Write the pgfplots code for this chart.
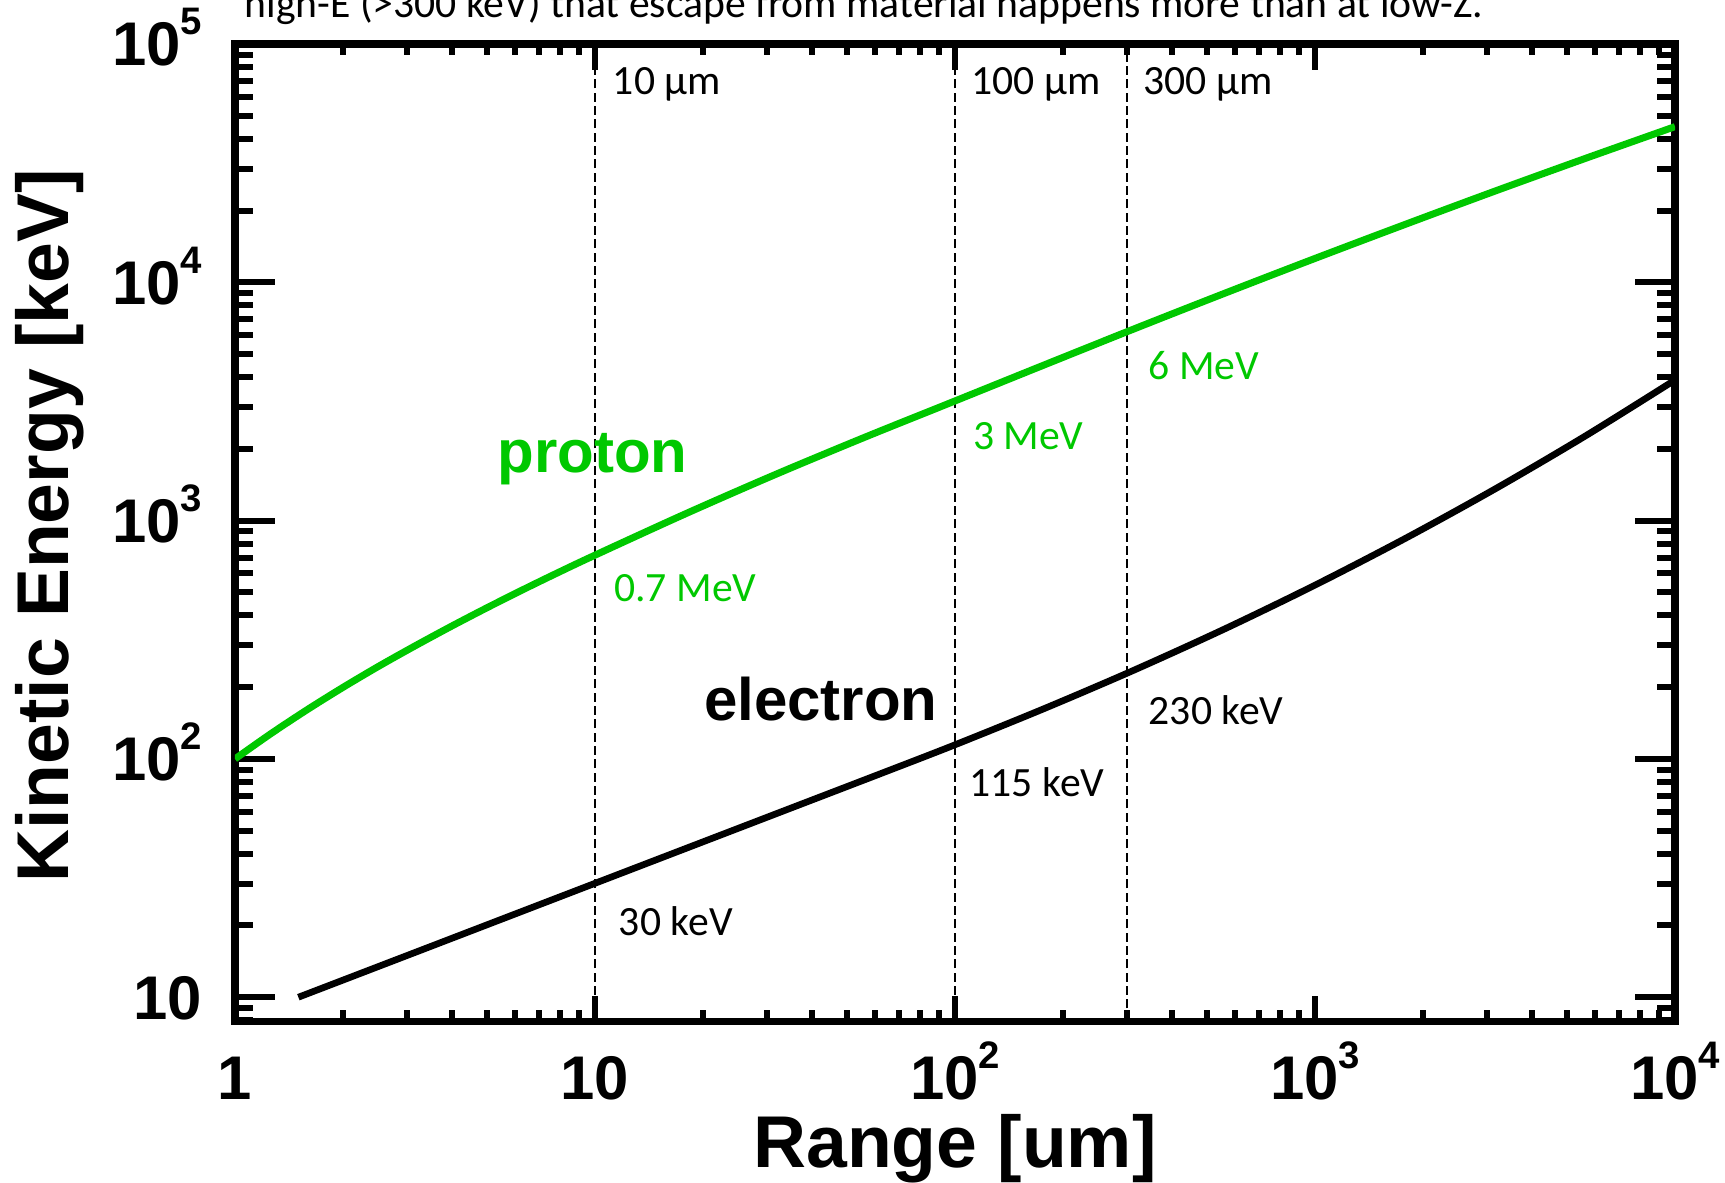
\documentclass[border=0pt]{standalone}
\usepackage{fontspec}
\setmainfont{Liberation Sans}
\newfontfamily\calfont{Carlito}
\usepackage{pgfplots}
\pgfplotsset{compat=1.18}
\definecolor{pgreen}{RGB}{0,200,0}
\newcommand{\tp}[1]{10\raisebox{9.3pt}{\fontsize{11.5pt}{12pt}\selectfont #1}}
\newcommand{\annfont}{\calfont\fontsize{12.5pt}{15pt}\selectfont}
\newcommand{\labfont}{\fontsize{22pt}{26pt}\selectfont\bfseries}
\begin{document}
\begin{tikzpicture}
\begin{axis}[
  name=ax, scale only axis, width=432pt, height=293.3pt,
  xmode=log, ymode=log,
  xmin=1, xmax=10000, ymin=7.9, ymax=100000,
  line width=2.2pt,
  tick align=inside,
  xtick={1,10,100,1000,10000},
  xticklabels={1,10,\tp{2},\tp{3},\tp{4}},
  ytick={10,100,1000,10000,100000},
  yticklabels={10,\tp{2},\tp{3},\tp{4},\tp{5}},
  minor xtick={2,3,4,5,6,7,8,9,20,30,40,50,60,70,80,90,200,300,400,500,600,700,800,900,2000,3000,4000,5000,6000,7000,8000,9000},
  minor ytick={8,9,20,30,40,50,60,70,80,90,200,300,400,500,600,700,800,900,2000,3000,4000,5000,6000,7000,8000,9000,20000,30000,40000,50000,60000,70000,80000,90000},
  ticklabel style={font=\fontsize{18.5pt}{20pt}\selectfont\bfseries},
  xticklabel style={anchor=base, yshift=-23.5pt, inner sep=0pt},
  yticklabel style={anchor=base east, xshift=-8.8pt, yshift=-6.6pt, inner sep=0pt},
  xtick style={black, line width=1.8pt, /pgfplots/major tick length=7.7pt, /pgfplots/minor tick length=3.4pt},
  ytick style={black, line width=1.8pt, /pgfplots/major tick length=12pt, /pgfplots/minor tick length=5.3pt},
]
% dashed guide lines
\addplot[black, line width=0.6pt, dash pattern=on 2.7pt off 1.3pt, forget plot] coordinates {(10,7.9) (10,100000)};
\addplot[black, line width=0.6pt, dash pattern=on 2.7pt off 1.3pt, forget plot] coordinates {(100,7.9) (100,100000)};
\addplot[black, line width=0.6pt, dash pattern=on 2.7pt off 1.3pt, forget plot] coordinates {(300,7.9) (300,100000)};
% proton
\addplot[pgreen, line width=2.1pt, smooth, tension=0.5] coordinates {
(1,100) (1.2589,127.7) (1.5849,160.7) (1.9953,199.6) (2.5119,245.2) (3.1623,297.9)
(3.981,359.5) (5.0119,430.8) (6.3096,513.1) (7.9433,607.7) (10,716.1)
(17.783,1065.4) (31.623,1558.5) (56.234,2239) (100,3177) (177.8,4512)
(316.2,6395) (562.3,9002) (1000,12589) (1778,17480) (3162,24130) (5623,33050) (10000,44980)};
% electron
\addplot[black, line width=2pt, smooth, tension=0.5] coordinates {
(1.5,10) (3.162,15.41) (10,30.06) (31.62,58.61) (63.10,87.5) (100,114.6)
(177.8,163.1) (316.2,236.7) (562.3,351.6) (1000,536.0) (1778,840.4)
(3162,1357) (5623,2260) (10000,3890)};
% labels
\node[anchor=base, inner sep=0pt, text=pgreen, font=\fontsize{18pt}{20pt}\selectfont\bfseries] at (axis cs:9.85,1590) {proton};
\node[anchor=base, inner sep=0pt, font=\fontsize{18pt}{20pt}\selectfont\bfseries] at (axis cs:42.4,145.6) {electron};
\node[anchor=base west, inner sep=0pt, text=pgreen, font=\annfont, xshift=4.7pt] at (axis cs:10,457) {0.7 MeV};
\node[anchor=base west, inner sep=0pt, text=pgreen, font=\annfont, xshift=4.3pt] at (axis cs:100,1980) {3 MeV};
\node[anchor=base west, inner sep=0pt, text=pgreen, font=\annfont, xshift=5.5pt] at (axis cs:300,3910) {6 MeV};
\node[anchor=base west, inner sep=0pt, font=\annfont, xshift=6.1pt] at (axis cs:10,18.2) {30 keV};
\node[anchor=base west, inner sep=0pt, font=\annfont, xshift=3.3pt] at (axis cs:100,69.6) {115 keV};
\node[anchor=base west, inner sep=0pt, font=\annfont, xshift=5.5pt] at (axis cs:300,140) {230 keV};
\node[anchor=base west, inner sep=0pt, font=\annfont, xshift=4.3pt] at (axis cs:10,61400) {10 µm};
\node[anchor=base west, inner sep=0pt, font=\annfont, xshift=3.8pt] at (axis cs:100,61400) {100 µm};
\node[anchor=base west, inner sep=0pt, font=\annfont, xshift=3.9pt] at (axis cs:300,61400) {300 µm};
\end{axis}
\node[rotate=90, anchor=base, inner sep=0pt, font=\labfont] at (-49.8pt,148.7pt) {Kinetic Energy [keV]};
\node[anchor=base, inner sep=0pt, font=\labfont] at (216pt,-43.9pt) {Range [um]};
\node[anchor=base west, inner sep=0pt, font=\annfont] at (2.7pt,301.2pt) {high-E (>300 keV) that escape from material happens more than at low-Z.};
\pgfresetboundingbox
\useasboundingbox (-70.5pt,-48.4pt) rectangle (447pt,306.5pt);
\end{tikzpicture}
\end{document}
